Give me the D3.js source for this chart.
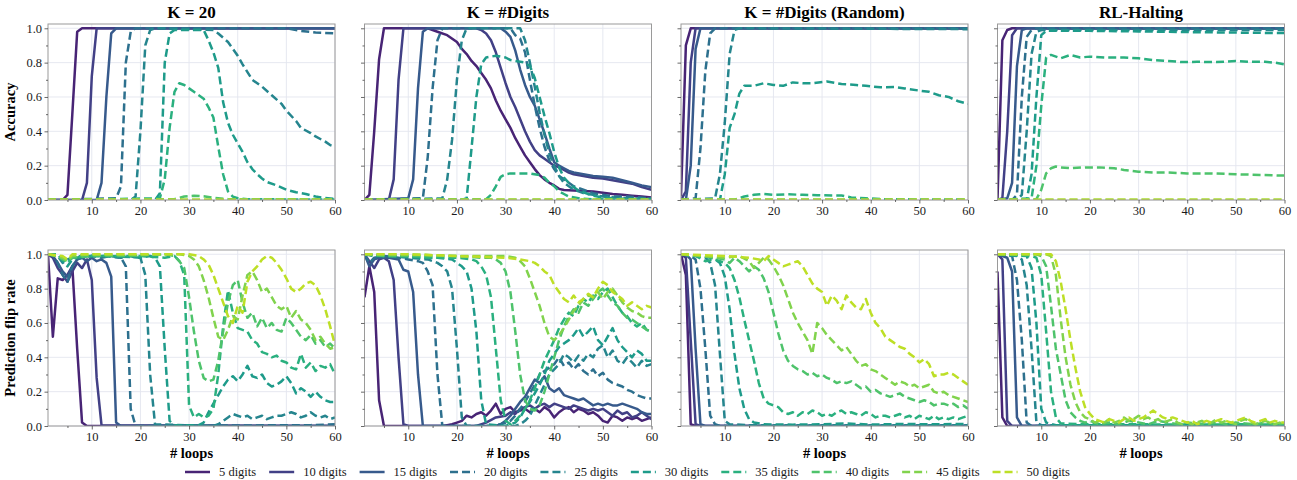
<!DOCTYPE html>
<html>
<head>
<meta charset="utf-8">
<script src="https://cdn.jsdelivr.net/npm/d3@7"></script>
<style>
  body { margin: 0; background: #fff; }
  svg, text { font-family: "Liberation Serif", "Times New Roman", "DejaVu Serif", serif; }
</style>
</head>
<body>
<svg id="chart" width="1297" height="480"></svg>
<script>
// ---- data: [loop, value] points ----
const digits = [5, 10, 15, 20, 25, 30, 35, 40, 45, 50];
const panelTitles = ["K = 20", "K = #Digits", "K = #Digits (Random)", "RL-Halting"];
const rowLabels = ["Accuracy", "Prediction flip rate"];
const xTicks = [10, 20, 30, 40, 50, 60];
const xMinorTicks = [5, 15, 25, 35, 45, 55];
const yTicks = [0, 0.2, 0.4, 0.6, 0.8, 1.0];
const yMinorTicks = [0.1, 0.3, 0.5, 0.7, 0.9];

const accK20 = [
  [[1,0],[4,0],[5,0.03],[6,0.5],[7,0.98],[8,1],[60,1]],
  [[1,0],[8,0],[9,0.1],[10,0.72],[11,1],[60,1]],
  [[1,0],[11,0],[12,0.1],[13,0.6],[14,0.97],[15,1],[60,1]],
  [[1,0],[15,0.01],[16,0.08],[17,0.8],[18,0.98],[19,1],[50,1],[53,0.985],[56,0.975],[60,0.97]],
  [[1,0],[18,0],[19,0.02],[20,0.4],[21,0.9],[22,0.99],[23,1],[35,0.99],[36,0.97],[38,0.92],[40,0.84],[41,0.79],[43,0.7],[45,0.66],[47,0.61],[49,0.56],[50,0.52],[52,0.46],[53,0.42],[55,0.39],[56,0.37],[58,0.34],[59,0.32],[60,0.31]],
  [[1,0],[23,0],[24,0.04],[25,0.8],[26,0.97],[27,0.99],[33,0.99],[34,0.93],[35,0.86],[36,0.77],[37,0.57],[38,0.45],[39,0.38],[40,0.33],[41,0.28],[42,0.22],[43,0.18],[44,0.15],[45,0.125],[46,0.105],[48,0.085],[50,0.06],[52,0.045],[54,0.035],[56,0.02],[58,0.012],[60,0.006]],
  [[1,0],[24,0.01],[25,0.12],[26,0.42],[27,0.63],[28,0.68],[29,0.67],[30,0.65],[31,0.63],[32,0.61],[33,0.59],[34,0.54],[35,0.48],[36,0.31],[37,0.15],[38,0.05],[39,0.02],[40,0.01],[42,0.004],[60,0.003]],
  [[1,0.003],[27,0.005],[29,0.02],[31,0.025],[33,0.022],[35,0.012],[38,0.005],[60,0.003]],
  [[1,0.002],[60,0.002]],
  [[1,0.002],[60,0.002]]
];

const flipK20 = [
  [[1,1],[2,0.52],[3,0.86],[4,0.85],[5,0.88],[6,0.93],[7,0.45],[8,0.02],[9,0],[60,0]],
  [[1,1],[2,0.98],[3,0.92],[4,0.88],[5,0.84],[6,0.9],[7,0.95],[8,0.92],[9,0.97],[10,0.85],[11,0.28],[12,0.005],[60,0]],
  [[1,1],[2,0.99],[3,0.95],[4,0.9],[5,0.87],[6,0.93],[7,0.97],[8,0.98],[9,0.96],[10,0.98],[11,0.96],[12,0.97],[13,0.95],[14,0.87],[15,0.02],[16,0],[60,0]],
  [[1,1],[2,1],[3,0.95],[4,0.88],[5,0.84],[6,0.93],[7,0.97],[8,0.98],[10,0.99],[12,0.98],[14,0.99],[16,0.98],[17,0.93],[18,0.1],[19,0],[55,0.005],[60,0.01]],
  [[1,1],[3,0.99],[4,0.95],[5,0.97],[6,0.98],[8,0.99],[12,0.99],[16,0.98],[18,0.99],[19,0.98],[20,0.98],[21,0.88],[22,0.3],[23,0.01],[35,0],[36,0.01],[37,0.03],[38,0.05],[39,0.07],[40,0.06],[41,0.05],[42,0.06],[43,0.04],[44,0.05],[45,0.06],[46,0.04],[47,0.05],[48,0.06],[49,0.06],[50,0.07],[51,0.08],[52,0.07],[53,0.05],[54,0.06],[55,0.08],[56,0.06],[57,0.05],[58,0.06],[59,0.04],[60,0.05]],
  [[1,1],[3,1],[4,0.96],[5,0.93],[6,0.97],[8,0.99],[14,0.99],[20,0.98],[22,0.99],[23,0.98],[24,0.93],[25,0.45],[26,0.03],[27,0.005],[32,0.005],[33,0.02],[34,0.08],[35,0.13],[36,0.18],[37,0.23],[38,0.27],[39,0.29],[40,0.26],[41,0.3],[42,0.35],[43,0.29],[44,0.28],[45,0.3],[46,0.25],[47,0.23],[48,0.24],[49,0.26],[50,0.29],[51,0.25],[52,0.19],[53,0.22],[54,0.2],[55,0.17],[56,0.2],[57,0.17],[58,0.15],[59,0.14],[60,0.14]],
  [[1,1],[3,1],[4,0.97],[5,0.95],[6,0.98],[10,0.99],[20,0.99],[25,0.98],[27,0.99],[28,0.96],[29,0.88],[30,0.12],[31,0.05],[32,0.07],[33,0.05],[34,0.06],[35,0.1],[36,0.3],[37,0.58],[38,0.79],[39,0.66],[40,0.57],[41,0.56],[42,0.55],[43,0.5],[44,0.48],[45,0.43],[46,0.42],[47,0.4],[48,0.41],[49,0.38],[50,0.37],[51,0.34],[52,0.33],[53,0.42],[54,0.34],[55,0.37],[56,0.32],[57,0.35],[58,0.34],[59,0.36],[60,0.3]],
  [[1,1],[3,0.99],[4,0.97],[5,0.96],[6,0.98],[10,0.99],[18,0.99],[25,1],[27,0.99],[28,0.96],[29,0.92],[30,0.75],[31,0.55],[32,0.38],[33,0.28],[34,0.26],[35,0.27],[36,0.38],[37,0.55],[38,0.72],[39,0.82],[40,0.85],[41,0.72],[42,0.63],[43,0.66],[44,0.58],[45,0.63],[46,0.57],[47,0.6],[48,0.56],[49,0.55],[50,0.63],[51,0.6],[52,0.56],[53,0.52],[54,0.5],[55,0.53],[56,0.48],[57,0.5],[58,0.46],[59,0.48],[60,0.45]],
  [[1,1],[4,0.98],[5,0.96],[6,0.99],[10,1],[28,1],[30,0.99],[31,0.97],[32,0.93],[33,0.85],[34,0.75],[35,0.63],[36,0.52],[37,0.5],[38,0.56],[39,0.64],[40,0.62],[41,0.76],[42,0.88],[43,0.9],[44,0.85],[45,0.78],[46,0.8],[47,0.75],[48,0.7],[49,0.68],[50,0.7],[51,0.63],[52,0.67],[53,0.62],[54,0.6],[55,0.56],[56,0.5],[57,0.52],[58,0.48],[59,0.45],[60,0.46]],
  [[1,1],[4,0.99],[5,0.97],[6,1],[30,1],[32,0.99],[33,0.97],[34,0.94],[35,0.88],[36,0.8],[37,0.72],[38,0.64],[39,0.6],[40,0.7],[41,0.66],[42,0.84],[43,0.9],[44,0.93],[45,0.97],[46,0.99],[47,0.98],[48,0.95],[49,0.91],[50,0.86],[51,0.8],[52,0.78],[53,0.8],[54,0.83],[55,0.84],[56,0.82],[57,0.76],[58,0.68],[59,0.58],[60,0.47]]
];

const accKDigits = [
  [[1,0],[2,0.03],[3,0.4],[4,0.82],[5,1],[14,1],[16,0.98],[18,0.96],[20,0.92],[21,0.88],[22,0.85],[23,0.81],[24,0.78],[25,0.74],[26,0.7],[27,0.65],[28,0.58],[29,0.52],[30,0.47],[31,0.42],[32,0.36],[33,0.31],[34,0.26],[35,0.22],[36,0.18],[37,0.145],[38,0.12],[39,0.1],[40,0.085],[41,0.065],[42,0.058],[44,0.055],[46,0.052],[48,0.05],[50,0.042],[52,0.035],[54,0.03],[56,0.025],[58,0.02],[60,0.015]],
  [[1,0],[6,0],[7,0.12],[8,0.7],[9,1],[24,1],[25,0.99],[26,0.97],[27,0.93],[28,0.86],[29,0.77],[30,0.68],[31,0.6],[32,0.54],[33,0.47],[34,0.4],[35,0.34],[36,0.29],[37,0.26],[38,0.24],[39,0.22],[40,0.2],[41,0.19],[42,0.175],[43,0.16],[44,0.15],[46,0.14],[48,0.13],[50,0.125],[52,0.115],[54,0.105],[56,0.095],[58,0.075],[60,0.06]],
  [[1,0],[10,0.01],[11,0.12],[12,0.65],[13,0.98],[14,1],[29,1],[30,0.98],[31,0.95],[32,0.87],[33,0.76],[34,0.67],[35,0.6],[36,0.55],[37,0.47],[38,0.39],[39,0.3],[40,0.22],[41,0.2],[42,0.185],[43,0.17],[44,0.16],[46,0.15],[48,0.14],[50,0.135],[52,0.13],[54,0.115],[56,0.1],[58,0.085],[60,0.075]],
  [[1,0],[13,0.01],[14,0.25],[15,0.65],[16,0.93],[17,1],[31,1],[32,0.96],[33,0.94],[34,0.86],[35,0.7],[36,0.55],[37,0.42],[38,0.31],[39,0.23],[40,0.18],[41,0.14],[42,0.12],[43,0.1],[44,0.08],[45,0.07],[46,0.06],[48,0.04],[50,0.03],[52,0.02],[55,0.02],[60,0.01]],
  [[1,0],[17,0.01],[18,0.12],[19,0.35],[20,0.7],[21,0.93],[22,1],[33,1],[34,0.93],[35,0.8],[36,0.66],[37,0.51],[38,0.38],[39,0.27],[40,0.2],[41,0.14],[42,0.1],[43,0.08],[44,0.06],[45,0.05],[46,0.04],[48,0.03],[50,0.02],[55,0.01],[60,0.008]],
  [[1,0],[21,0],[22,0.01],[23,0.3],[24,0.6],[25,0.79],[26,0.83],[28,0.84],[30,0.83],[31,0.815],[32,0.81],[34,0.8],[35,0.78],[36,0.71],[37,0.6],[38,0.49],[39,0.39],[40,0.28],[41,0.19],[42,0.13],[43,0.1],[44,0.075],[45,0.055],[46,0.045],[47,0.035],[48,0.025],[50,0.015],[53,0.008],[60,0.004]],
  [[1,0.002],[26,0.005],[27,0.03],[28,0.08],[29,0.135],[30,0.15],[31,0.155],[33,0.155],[35,0.155],[37,0.145],[38,0.13],[39,0.1],[40,0.08],[41,0.05],[42,0.035],[43,0.02],[45,0.01],[48,0.004],[60,0.003]],
  [[1,0.002],[60,0.002]],
  [[1,0.002],[60,0.002]],
  [[1,0.002],[60,0.002]]
];

const flipKDigits = [
  [[1,0.75],[2,0.93],[3,0.78],[4,0.15],[5,0],[17,0],[18,0.005],[19,0.01],[20,0.02],[21,0.03],[22,0.06],[23,0.05],[24,0.07],[25,0.08],[26,0.06],[27,0.09],[28,0.13],[29,0.07],[30,0.1],[31,0.11],[32,0.08],[33,0.09],[34,0.1],[35,0.08],[36,0.1],[37,0.08],[38,0.11],[39,0.09],[40,0.05],[41,0.08],[42,0.1],[43,0.11],[44,0.08],[45,0.1],[46,0.09],[47,0.07],[48,0.08],[49,0.06],[50,0.03],[51,0.02],[52,0.06],[53,0.05],[54,0.03],[55,0.05],[56,0.04],[57,0.05],[58,0.03],[59,0.04],[60,0.05]],
  [[1,1],[2,0.96],[3,0.92],[4,0.97],[5,0.98],[6,0.96],[7,0.85],[8,0.4],[9,0.01],[10,0],[24,0],[26,0.02],[28,0.05],[30,0.06],[31,0.08],[32,0.07],[33,0.1],[34,0.11],[35,0.12],[36,0.1],[37,0.12],[38,0.13],[39,0.11],[40,0.13],[41,0.12],[42,0.11],[43,0.1],[44,0.12],[45,0.11],[46,0.1],[47,0.09],[48,0.1],[49,0.09],[50,0.1],[51,0.08],[52,0.06],[53,0.09],[54,0.07],[55,0.08],[56,0.05],[57,0.06],[58,0.08],[59,0.06],[60,0.04]],
  [[1,1],[2,0.93],[3,0.97],[4,0.98],[6,0.98],[8,0.97],[9,0.91],[10,0.9],[11,0.78],[12,0.3],[13,0],[28,0],[29,0.01],[30,0.03],[31,0.06],[32,0.1],[33,0.14],[34,0.17],[35,0.22],[36,0.27],[37,0.25],[38,0.29],[39,0.22],[40,0.2],[41,0.22],[42,0.18],[43,0.17],[44,0.16],[45,0.15],[46,0.16],[47,0.14],[48,0.12],[49,0.13],[50,0.12],[51,0.13],[52,0.12],[53,0.12],[54,0.13],[55,0.12],[56,0.11],[57,0.1],[58,0.08],[59,0.07],[60,0.07]],
  [[1,1],[2,0.95],[3,0.98],[5,0.99],[8,0.98],[10,0.97],[12,0.96],[13,0.95],[14,0.9],[15,0.82],[16,0.3],[17,0],[27,0],[29,0.01],[31,0.03],[32,0.06],[33,0.1],[34,0.14],[35,0.19],[36,0.24],[37,0.3],[38,0.32],[39,0.34],[40,0.36],[41,0.4],[42,0.35],[43,0.37],[44,0.33],[45,0.36],[46,0.32],[47,0.3],[48,0.33],[49,0.29],[50,0.31],[51,0.27],[52,0.25],[53,0.24],[54,0.23],[55,0.21],[56,0.2],[57,0.18],[58,0.17],[59,0.16],[60,0.16]],
  [[1,1],[3,0.99],[6,0.99],[10,0.98],[14,0.97],[16,0.95],[17,0.93],[18,0.9],[19,0.8],[20,0.45],[21,0.05],[22,0],[32,0],[33,0.01],[34,0.03],[35,0.06],[36,0.12],[37,0.18],[38,0.24],[39,0.3],[40,0.33],[41,0.36],[42,0.42],[43,0.4],[44,0.37],[45,0.41],[46,0.38],[47,0.42],[48,0.4],[49,0.45],[50,0.47],[51,0.4],[52,0.44],[53,0.38],[54,0.36],[55,0.4],[56,0.37],[57,0.34],[58,0.38],[59,0.35],[60,0.36]],
  [[1,1],[4,0.99],[8,0.99],[12,0.98],[16,0.98],[19,0.97],[20,0.95],[21,0.93],[22,0.9],[23,0.8],[24,0.55],[25,0.15],[26,0.01],[30,0],[32,0.02],[33,0.05],[34,0.1],[35,0.14],[36,0.19],[37,0.24],[38,0.3],[39,0.38],[40,0.42],[41,0.46],[42,0.48],[43,0.5],[44,0.53],[45,0.57],[46,0.52],[47,0.55],[48,0.58],[49,0.5],[50,0.47],[51,0.52],[52,0.57],[53,0.5],[54,0.46],[55,0.43],[56,0.4],[57,0.44],[58,0.42],[59,0.38],[60,0.38]],
  [[1,1],[5,0.99],[10,0.99],[15,0.98],[20,0.98],[23,0.97],[24,0.96],[25,0.93],[26,0.88],[27,0.75],[28,0.45],[29,0.15],[30,0.03],[31,0.01],[32,0.03],[33,0.06],[34,0.1],[35,0.15],[36,0.22],[37,0.3],[38,0.38],[39,0.44],[40,0.5],[41,0.57],[42,0.62],[43,0.66],[44,0.64],[45,0.7],[46,0.74],[47,0.72],[48,0.76],[49,0.74],[50,0.78],[51,0.8],[52,0.75],[53,0.7],[54,0.66],[55,0.64],[56,0.6],[57,0.58],[58,0.6],[59,0.56],[60,0.55]],
  [[1,1],[5,0.99],[20,0.99],[25,0.98],[27,0.98],[28,0.97],[29,0.95],[30,0.9],[31,0.78],[32,0.55],[33,0.3],[34,0.15],[35,0.1],[36,0.09],[37,0.12],[38,0.2],[39,0.3],[40,0.4],[41,0.5],[42,0.58],[43,0.64],[44,0.68],[45,0.66],[46,0.72],[47,0.7],[48,0.74],[49,0.78],[50,0.8],[51,0.76],[52,0.72],[53,0.7],[54,0.66],[55,0.63],[56,0.62],[57,0.6],[58,0.58],[59,0.56],[60,0.55]],
  [[1,1],[10,1],[20,0.99],[30,0.99],[32,0.98],[33,0.96],[34,0.93],[35,0.86],[36,0.78],[37,0.7],[38,0.6],[39,0.52],[40,0.5],[41,0.53],[42,0.57],[43,0.62],[44,0.67],[45,0.7],[46,0.74],[47,0.76],[48,0.75],[49,0.78],[50,0.74],[51,0.78],[52,0.8],[53,0.76],[54,0.72],[55,0.69],[56,0.67],[57,0.66],[58,0.64],[59,0.63],[60,0.63]],
  [[1,1],[10,1],[20,0.99],[30,0.98],[33,0.97],[35,0.96],[36,0.95],[37,0.93],[38,0.9],[39,0.88],[40,0.82],[41,0.78],[42,0.74],[43,0.72],[44,0.76],[45,0.72],[46,0.74],[47,0.77],[48,0.75],[49,0.8],[50,0.84],[51,0.82],[52,0.78],[53,0.76],[54,0.74],[55,0.7],[56,0.72],[57,0.7],[58,0.68],[59,0.7],[60,0.69]]
];

const accKRandom = [
  [[1,0.02],[2,0.9],[3,1],[60,1]],
  [[1,0],[2,0.05],[3,0.8],[4,1],[60,1]],
  [[1,0],[2,0],[3,0.2],[4,0.88],[5,1],[60,1]],
  [[1,0],[4,0.01],[5,0.3],[6,0.75],[7,0.97],[8,1],[60,1]],
  [[1,0],[8,0.01],[9,0.15],[10,0.45],[11,0.85],[12,0.99],[13,1],[60,0.995]],
  [[1,0],[9,0],[10,0.15],[11,0.42],[12,0.5],[13,0.62],[14,0.665],[16,0.665],[18,0.68],[20,0.67],[22,0.665],[24,0.685],[26,0.68],[28,0.68],[31,0.69],[34,0.675],[37,0.67],[39,0.665],[42,0.656],[45,0.658],[47,0.65],[50,0.637],[52,0.63],[54,0.61],[56,0.6],[58,0.575],[60,0.56]],
  [[1,0],[12,0.002],[14,0.02],[16,0.03],[18,0.035],[20,0.03],[23,0.033],[26,0.03],[29,0.028],[34,0.026],[36,0.015],[39,0.01],[43,0.004],[60,0.003]],
  [[1,0.002],[60,0.002]],
  [[1,0.002],[60,0.002]],
  [[1,0.002],[60,0.002]]
];

const flipKRandom = [
  [[1,1],[2,0.88],[3,0.01],[4,0],[60,0]],
  [[1,1],[2,0.98],[3,0.5],[4,0.01],[5,0],[60,0]],
  [[1,1],[2,1],[3,0.97],[4,0.45],[5,0.01],[6,0],[60,0]],
  [[1,1],[3,0.99],[4,0.97],[5,0.8],[6,0.45],[7,0.06],[8,0.01],[9,0],[60,0.003]],
  [[1,1],[4,0.99],[6,0.98],[7,0.95],[8,0.82],[9,0.42],[10,0.03],[11,0.01],[15,0.005],[60,0.004]],
  [[1,1],[5,0.99],[7,0.98],[8,0.97],[9,0.95],[10,0.87],[11,0.68],[12,0.42],[13,0.22],[14,0.1],[15,0.04],[16,0.02],[18,0.01],[24,0.008],[30,0.01],[35,0.015],[40,0.008],[46,0.012],[52,0.01],[60,0.012]],
  [[1,1],[4,0.99],[6,0.96],[8,0.97],[10,0.95],[11,0.92],[12,0.85],[13,0.75],[14,0.62],[15,0.5],[16,0.38],[17,0.25],[18,0.16],[19,0.13],[20,0.12],[21,0.11],[22,0.08],[23,0.07],[24,0.08],[25,0.06],[26,0.08],[27,0.07],[28,0.09],[29,0.08],[30,0.06],[31,0.07],[32,0.06],[33,0.08],[34,0.09],[35,0.07],[36,0.08],[37,0.07],[38,0.06],[39,0.08],[40,0.07],[41,0.05],[42,0.06],[43,0.06],[44,0.05],[45,0.06],[46,0.07],[47,0.05],[48,0.06],[49,0.04],[50,0.06],[51,0.05],[52,0.04],[53,0.06],[54,0.04],[55,0.05],[56,0.04],[57,0.05],[58,0.04],[59,0.05],[60,0.06]],
  [[1,1],[5,0.99],[8,0.98],[10,0.97],[11,0.95],[12,0.98],[13,0.96],[14,0.93],[15,0.9],[16,0.93],[17,0.91],[18,0.86],[19,0.78],[20,0.66],[21,0.54],[22,0.44],[23,0.38],[24,0.35],[25,0.33],[26,0.32],[27,0.3],[28,0.31],[29,0.29],[30,0.3],[31,0.28],[32,0.27],[33,0.25],[34,0.26],[35,0.25],[36,0.26],[37,0.24],[38,0.22],[39,0.23],[40,0.2],[41,0.21],[42,0.19],[43,0.18],[44,0.17],[45,0.18],[46,0.19],[47,0.17],[48,0.16],[49,0.15],[50,0.14],[51,0.15],[52,0.14],[53,0.12],[54,0.13],[55,0.13],[56,0.12],[57,0.13],[58,0.11],[59,0.12],[60,0.1]],
  [[1,1],[5,0.99],[10,0.98],[13,0.99],[15,0.96],[16,0.92],[17,0.95],[18,0.98],[19,0.97],[20,0.93],[21,0.88],[22,0.82],[23,0.74],[24,0.66],[25,0.6],[26,0.55],[27,0.5],[28,0.42],[29,0.6],[30,0.57],[31,0.53],[32,0.5],[33,0.47],[34,0.44],[35,0.46],[36,0.42],[37,0.38],[38,0.35],[39,0.36],[40,0.33],[41,0.32],[42,0.3],[43,0.28],[44,0.26],[45,0.24],[46,0.26],[47,0.25],[48,0.23],[49,0.24],[50,0.22],[51,0.23],[52,0.24],[53,0.2],[54,0.19],[55,0.2],[56,0.18],[57,0.17],[58,0.16],[59,0.15],[60,0.14]],
  [[1,1],[10,0.99],[15,0.98],[17,0.97],[18,0.96],[19,0.99],[20,0.97],[21,0.95],[22,0.93],[23,0.94],[24,0.95],[25,0.96],[26,0.93],[27,0.88],[28,0.83],[29,0.8],[30,0.78],[31,0.7],[32,0.76],[33,0.73],[34,0.68],[35,0.76],[36,0.72],[37,0.69],[38,0.68],[39,0.74],[40,0.66],[41,0.6],[42,0.57],[43,0.52],[44,0.5],[45,0.48],[46,0.46],[47,0.45],[48,0.42],[49,0.4],[50,0.37],[51,0.39],[52,0.36],[53,0.29],[54,0.3],[55,0.3],[56,0.31],[57,0.3],[58,0.28],[59,0.26],[60,0.24]]
];

const accRL = [
  [[1,0],[2,0.93],[3,0.99],[4,1],[60,1]],
  [[1,0],[2,0.01],[3,0.4],[4,0.96],[5,1],[60,1]],
  [[1,0],[3,0.01],[4,0.1],[5,0.78],[6,0.99],[7,1],[60,1]],
  [[1,0],[4,0],[5,0.03],[6,0.6],[7,0.95],[8,0.99],[9,1],[60,1]],
  [[1,0],[5,0],[6,0.03],[7,0.4],[8,0.85],[9,0.98],[10,0.99],[60,0.99]],
  [[1,0],[7,0],[8,0.15],[9,0.6],[10,0.96],[11,0.985],[20,0.985],[30,0.982],[40,0.978],[50,0.975],[60,0.972]],
  [[1,0],[8,0.01],[9,0.2],[10,0.55],[11,0.83],[12,0.845],[14,0.825],[16,0.845],[18,0.83],[20,0.835],[23,0.83],[27,0.83],[30,0.825],[33,0.815],[36,0.81],[39,0.803],[42,0.805],[46,0.803],[50,0.81],[53,0.805],[56,0.805],[58,0.8],[60,0.79]],
  [[1,0],[9,0.005],[10,0.06],[11,0.155],[12,0.185],[13,0.195],[14,0.19],[16,0.185],[19,0.19],[22,0.19],[25,0.185],[27,0.175],[30,0.165],[33,0.16],[36,0.16],[40,0.155],[45,0.155],[50,0.15],[55,0.146],[60,0.142]],
  [[1,0.002],[60,0.002]],
  [[1,0.002],[60,0.002]]
];

const flipRL = [
  [[1,0.9],[2,0.05],[3,0],[60,0]],
  [[1,1],[2,0.97],[3,0.03],[4,0],[60,0]],
  [[1,1],[3,0.98],[4,0.9],[5,0.05],[6,0],[60,0]],
  [[1,1],[4,0.99],[5,0.85],[6,0.5],[7,0.02],[8,0],[60,0.002]],
  [[1,1],[5,0.99],[6,0.97],[7,0.82],[8,0.45],[9,0.02],[10,0.005],[60,0.004]],
  [[1,1],[7,0.99],[8,0.92],[9,0.6],[10,0.1],[11,0.02],[13,0.005],[60,0.005]],
  [[1,1],[8,0.99],[9,0.98],[10,0.88],[11,0.55],[12,0.2],[13,0.05],[14,0.015],[20,0.01],[30,0.01],[40,0.008],[50,0.01],[60,0.008]],
  [[1,1],[9,1],[10,0.99],[11,0.93],[12,0.7],[13,0.45],[14,0.3],[15,0.15],[16,0.08],[17,0.05],[18,0.03],[19,0.02],[20,0.03],[21,0.02],[22,0.01],[24,0.02],[26,0.01],[28,0.03],[30,0.02],[32,0.01],[34,0.03],[36,0.02],[38,0.01],[40,0.02],[42,0.015],[44,0.01],[46,0.02],[48,0.01],[50,0.02],[52,0.015],[54,0.01],[56,0.02],[58,0.01],[60,0.015]],
  [[1,1],[11,1],[12,0.99],[13,0.88],[14,0.62],[15,0.4],[16,0.24],[17,0.14],[18,0.08],[19,0.05],[20,0.04],[21,0.02],[22,0.03],[23,0.02],[24,0.04],[25,0.02],[26,0.03],[27,0.05],[28,0.03],[29,0.04],[30,0.06],[31,0.04],[32,0.05],[33,0.03],[34,0.04],[35,0.02],[36,0.03],[37,0.04],[38,0.02],[39,0.01],[40,0.02],[41,0.01],[42,0.02],[43,0.03],[44,0.01],[45,0.02],[46,0.04],[47,0.02],[48,0.03],[49,0.02],[50,0.01],[51,0.03],[52,0.04],[53,0.02],[54,0.01],[55,0.02],[56,0.03],[57,0.02],[58,0.01],[59,0.02],[60,0.01]],
  [[1,1],[12,1],[13,0.96],[14,0.84],[15,0.68],[16,0.5],[17,0.34],[18,0.2],[19,0.11],[20,0.07],[21,0.04],[22,0.03],[23,0.02],[24,0.04],[25,0.03],[26,0.02],[27,0.04],[28,0.05],[29,0.03],[30,0.04],[31,0.05],[32,0.07],[33,0.09],[34,0.07],[35,0.05],[36,0.04],[37,0.05],[38,0.04],[39,0.03],[40,0.02],[41,0.03],[42,0.01],[43,0.02],[44,0.03],[45,0.02],[46,0.03],[47,0.04],[48,0.03],[49,0.02],[50,0.03],[51,0.04],[52,0.05],[53,0.03],[54,0.02],[55,0.03],[56,0.04],[57,0.02],[58,0.03],[59,0.02],[60,0.02]]
];

const panelData = [
  [accK20, accKDigits, accKRandom, accRL],
  [flipK20, flipKDigits, flipKRandom, flipRL]
];

// ---- layout ----
const serif = "'Liberation Serif', 'Times New Roman', 'DejaVu Serif', serif";
const svg = d3.select("#chart").attr("font-family", serif);
const panelLefts = [48, 364.5, 681, 997.5];
const rowTops = [24, 250];
const panelW = 287;
const panelH = 176;

const x = d3.scaleLinear().domain([1, 60]).range([0, panelW]);
const y = d3.scaleLinear().domain([0, 1.025]).range([panelH, 0]);
const colorOf = i => d3.interpolateViridis(0.1 + i * 0.8 / 9);
const dashOf = i => digits[i] >= 20 ? "8,4" : null;

const line = d3.line().x(d => x(d[0])).y(d => y(d[1]));

panelData.forEach((rowData, r) => {
  rowData.forEach((seriesList, c) => {
    const g = svg.append("g")
      .attr("transform", `translate(${panelLefts[c]},${rowTops[r]})`);

    const clipId = `clip-${r}-${c}`;
    g.append("clipPath").attr("id", clipId)
      .append("rect").attr("width", panelW).attr("height", panelH);

    // grid
    g.append("g").selectAll("line").data(xTicks).join("line")
      .attr("x1", d => x(d)).attr("x2", d => x(d))
      .attr("y1", 0).attr("y2", panelH)
      .attr("stroke", "#e3e5ee").attr("stroke-width", 0.9);
    g.append("g").selectAll("line").data(yTicks).join("line")
      .attr("x1", 0).attr("x2", panelW)
      .attr("y1", d => y(d)).attr("y2", d => y(d))
      .attr("stroke", "#e3e5ee").attr("stroke-width", 0.9);

    // series, 5 digits first so the longer ones sit on top
    g.append("g").attr("clip-path", `url(#${clipId})`)
      .selectAll("path").data(seriesList).join("path")
      .attr("d", line)
      .attr("fill", "none")
      .attr("stroke", (d, i) => colorOf(i))
      .attr("stroke-width", 2.5)
      .attr("stroke-dasharray", (d, i) => dashOf(i))
      .attr("stroke-linejoin", "round");

    // frame
    g.append("rect")
      .attr("width", panelW).attr("height", panelH)
      .attr("fill", "none").attr("stroke", "#9a9a9a").attr("stroke-width", 1);

    // x axis
    g.append("g").attr("transform", `translate(0,${panelH})`)
      .call(d3.axisBottom(x).tickValues(xTicks).tickSize(3.5).tickPadding(2.5));
    g.append("g").attr("transform", `translate(0,${panelH})`)
      .call(d3.axisBottom(x).tickValues(xMinorTicks).tickSize(2).tickFormat(""));

    // y axis
    g.append("g")
      .call(d3.axisLeft(y).tickValues(yTicks).tickSize(3.5).tickPadding(2.5)
        .tickFormat(c === 0 ? d3.format(".1f") : ""));
    g.append("g")
      .call(d3.axisLeft(y).tickValues(yMinorTicks).tickSize(2).tickFormat(""));

    g.selectAll(".domain").remove();
    g.selectAll(".tick line").attr("stroke", "#444").attr("stroke-width", 0.8);
    g.selectAll("g").filter(function () { return this.getAttribute("font-family"); })
      .attr("font-family", serif);
    g.selectAll(".tick text")
      .attr("font-size", 12.5).attr("fill", "#1a1a1a");

    if (r === 0) {
      g.append("text")
        .attr("x", panelW / 2).attr("y", -6)
        .attr("text-anchor", "middle")
        .attr("font-size", 17).attr("font-weight", "bold")
        .text(panelTitles[c]);
    } else {
      g.append("text")
        .attr("x", panelW / 2).attr("y", panelH + 32)
        .attr("text-anchor", "middle")
        .attr("font-size", 14.5).attr("font-weight", "bold")
        .text("# loops");
    }
    if (c === 0) {
      g.append("text")
        .attr("transform", `translate(${-33},${panelH / 2}) rotate(-90)`)
        .attr("text-anchor", "middle")
        .attr("font-size", 14.5).attr("font-weight", "bold")
        .text(rowLabels[r]);
    }
  });
});

// ---- legend ----
const legend = svg.append("g").attr("transform", "translate(185,472)");
let lx = 0;
digits.forEach((d, i) => {
  const item = legend.append("g").attr("transform", `translate(${lx},0)`);
  item.append("line")
    .attr("x1", 0).attr("x2", 25).attr("y1", 0).attr("y2", 0)
    .attr("stroke", colorOf(i)).attr("stroke-width", 2.5)
    .attr("stroke-dasharray", dashOf(i));
  const t = item.append("text")
    .attr("x", 34).attr("y", 4.3)
    .attr("font-size", 12.5).attr("fill", "#1a1a1a")
    .text(`${d} digits`);
  lx += 34 + t.node().getComputedTextLength() + 13;
});
</script>
</body>
</html>
